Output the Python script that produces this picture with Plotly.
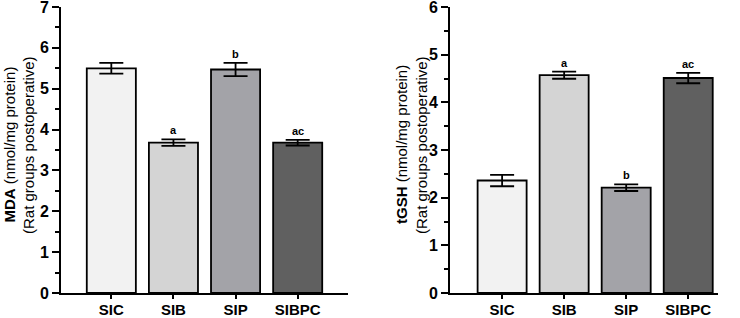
import plotly.graph_objects as go

groups = ["SIC", "SIB", "SIP", "SIBPC"]
mda_mean = [5.50, 3.68, 5.47, 3.68]
mda_err = [0.13, 0.08, 0.16, 0.07]
mda_letters = ["", "a", "b", "ac"]
tgsh_mean = [2.36, 4.57, 2.21, 4.51]
tgsh_err = [0.12, 0.075, 0.07, 0.11]
tgsh_letters = ["", "a", "b", "ac"]
bar_colors = ["#f2f2f2", "#d4d4d4", "#a3a3a8", "#606060"]

FONT = "Liberation Sans, Arial, sans-serif"

fig = go.Figure()
for mean, err, xa, ya in [(mda_mean, mda_err, "x", "y"), (tgsh_mean, tgsh_err, "x2", "y2")]:
    fig.add_trace(go.Bar(
        x=groups, y=mean, xaxis=xa, yaxis=ya, width=0.79,
        marker=dict(color=bar_colors, line=dict(color="black", width=1.8)),
        error_y=dict(type="data", array=err, color="black", thickness=1.8, width=12),
        showlegend=False,
    ))

for letters, mean, err, xr, yr in [(mda_letters, mda_mean, mda_err, "x", "y"),
                                   (tgsh_letters, tgsh_mean, tgsh_err, "x2", "y2")]:
    for g, l, m, e in zip(groups, letters, mean, err):
        if l:
            fig.add_annotation(x=g, y=m + e, xref=xr, yref=yr, text="<b>%s</b>" % l,
                               showarrow=False, yanchor="bottom", yshift=1,
                               font=dict(family=FONT, size=11, color="black"))

ydom = [25 / 318, 311 / 318]
common_x = dict(showline=True, linecolor="black", linewidth=2, ticks="outside", ticklen=4,
                tickwidth=1.8, tickcolor="black", showgrid=False, zeroline=False,
                tickfont=dict(family=FONT, size=15, color="black", weight="bold"),
                automargin=False, tickangle=0, ticklabeloverflow="allow",
                ticklabelstandoff=-2)
common_y = dict(showline=True, linecolor="black", linewidth=2, ticks="outside", ticklen=7,
                tickwidth=1.8, tickcolor="black", showgrid=False, zeroline=False,
                tickfont=dict(family=FONT, size=16, color="black", weight="bold"),
                automargin=False, ticklabeloverflow="allow",
                dtick=1, domain=ydom,
                minor=dict(dtick=0.5, ticks="outside", ticklen=4, tickwidth=1.5, tickcolor="black"))

fig.update_layout(
    width=740, height=318,
    margin=dict(l=0, r=0, t=0, b=0),
    paper_bgcolor="white", plot_bgcolor="white",
    font=dict(family=FONT, color="black"),
    xaxis=dict(common_x, domain=[61 / 740, 348 / 740], range=[-0.81, 3.81], anchor="y"),
    yaxis=dict(common_y, range=[0, 7], anchor="x"),
    xaxis2=dict(common_x, domain=[450 / 740, 718 / 740], range=[-0.84, 3.48], anchor="y2"),
    yaxis2=dict(common_y, range=[0, 6], anchor="x2"),
)

ymid = 1 - 145 / 318
for x1, x2, name in [(8.5, 28, "MDA"), (401, 421, "tGSH")]:
    fig.add_annotation(
        x=x1 / 740, y=ymid, xref="paper", yref="paper",
        text="<b>%s</b> (nmol/mg protein)" % name,
        textangle=-90, showarrow=False, xanchor="center", yanchor="middle",
        font=dict(family=FONT, size=15, color="black"))
    fig.add_annotation(
        x=x2 / 740, y=ymid, xref="paper", yref="paper",
        text="(Rat groups postoperative)",
        textangle=-90, showarrow=False, xanchor="center", yanchor="middle",
        font=dict(family=FONT, size=15, color="black"))

fig.write_html("out.html", post_script="document.body.style.margin='0';",
               config={"displayModeBar": False})
